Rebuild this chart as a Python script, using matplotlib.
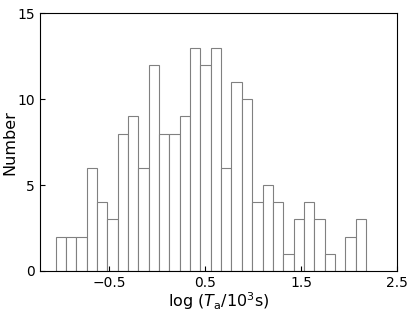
import numpy as np
import matplotlib
matplotlib.use("Agg")
import matplotlib.pyplot as plt

counts = [2, 2, 2, 6, 4, 3, 8, 9, 6, 12, 8, 8, 9, 13, 12, 13, 6, 11, 10, 4, 5, 4, 1, 3, 4, 3, 1, 0, 2, 3]
bin_start = -1.058
bin_end = 2.177
xticks = [-0.5, 0.5, 1.5, 2.5]
yticks = [0, 5, 10, 15]

edges = np.linspace(bin_start, bin_end, len(counts) + 1)

fig = plt.figure(figsize=(4.15, 3.11), dpi=100)
ax = fig.add_axes([40/415, 1 - 271/311, (397 - 40)/415, (271 - 13.3)/311])
ax.hist(edges[:-1], bins=edges, weights=counts, histtype='bar',
        facecolor='white', edgecolor='#808080', linewidth=0.8)
ax.set_xlim(-1.22, 2.5)
ax.set_ylim(0, 15)
ax.set_xticks(xticks)
ax.set_xticklabels(['\u22120.5', '0.5', '1.5', '2.5'])
ax.set_yticks(yticks)
ax.tick_params(direction='in', labelsize=10)
ax.set_xlabel(r'log ($T_{\rm a}$/10$^3$s)', fontsize=11.5, labelpad=0)
ax.set_ylabel('Number', fontsize=11.5, labelpad=0)
fig.savefig('out.png', dpi=100)
